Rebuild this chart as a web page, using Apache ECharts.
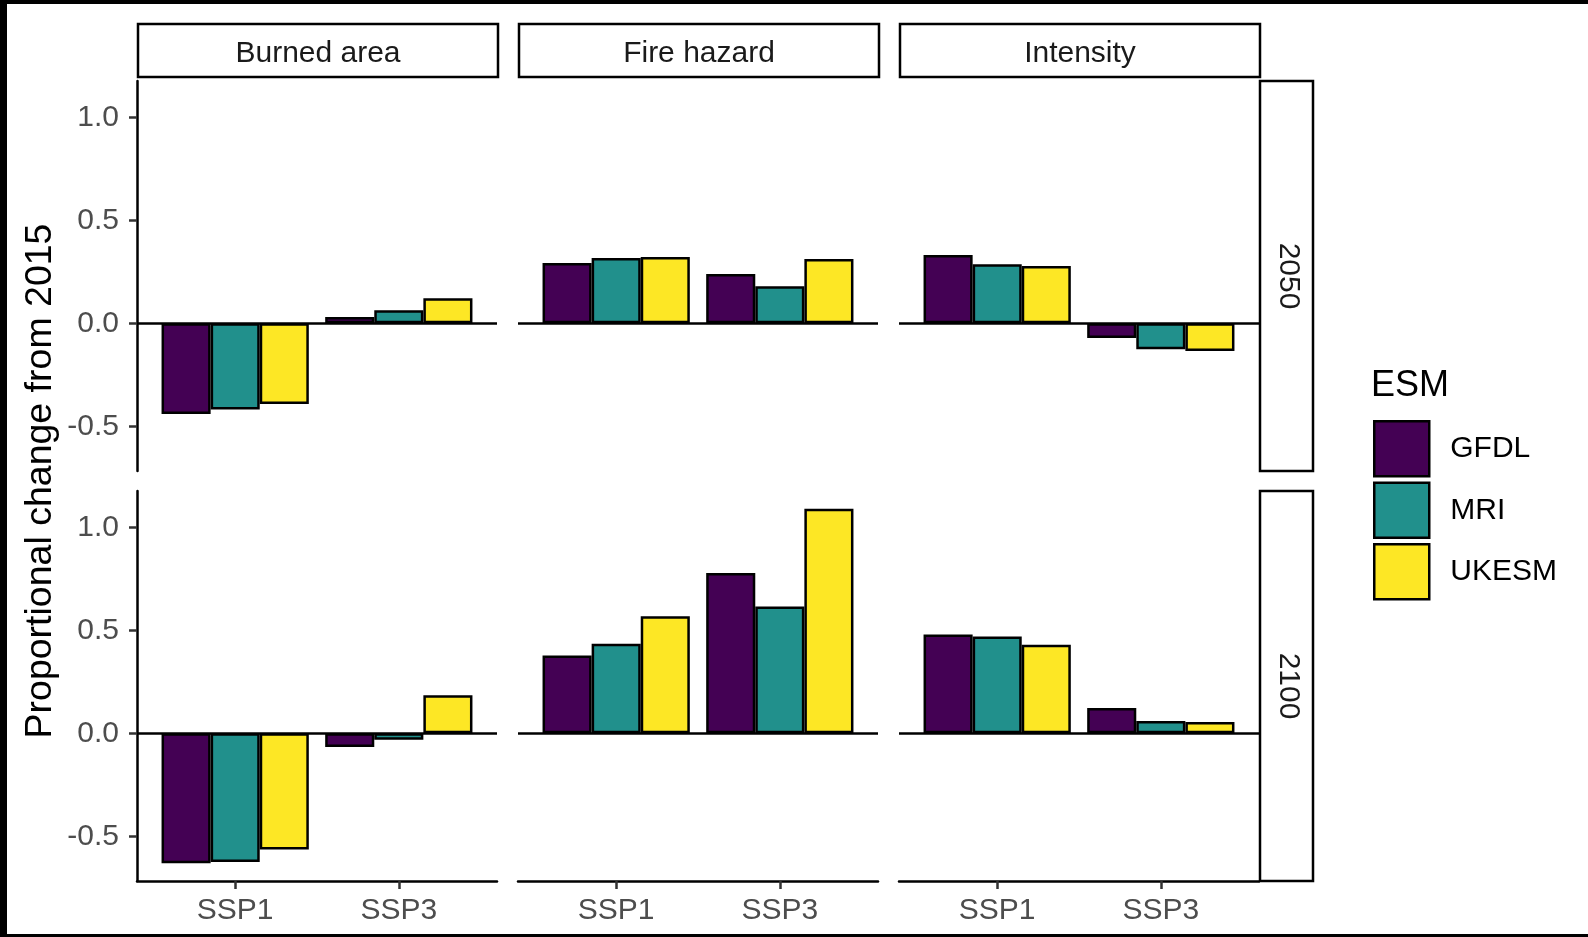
<!DOCTYPE html>
<html><head><meta charset="utf-8">
<script src="https://cdn.jsdelivr.net/npm/echarts@6/dist/echarts.min.js"></script>
<style>
html,body{margin:0;padding:0;background:#000;width:1588px;height:937px;overflow:hidden}
#bg{position:absolute;left:7px;top:4px;width:1581px;height:930px;background:#fff}
#chart{position:absolute;left:0;top:0;width:1588px;height:937px}
</style></head><body><div id="bg"></div><div id="chart"></div>
<script>
// ---- data ----
const scenarios = ['SSP1', 'SSP3'];
const models = ['GFDL', 'MRI', 'UKESM'];
const variables = ['Burned area', 'Fire hazard', 'Intensity'];
const years = ['2050', '2100'];
const yTicks = [-0.5, 0, 0.5, 1.0];
// values per panel, ordered [GFDL, MRI, UKESM]
const burned2050_SSP1 = [-0.440, -0.418, -0.392];
const burned2050_SSP3 = [0.030, 0.063, 0.122];
const hazard2050_SSP1 = [0.292, 0.317, 0.322];
const hazard2050_SSP3 = [0.239, 0.180, 0.312];
const intensity2050_SSP1 = [0.331, 0.286, 0.278];
const intensity2050_SSP3 = [-0.072, -0.126, -0.134];
const burned2100_SSP1 = [-0.631, -0.625, -0.564];
const burned2100_SSP3 = [-0.066, -0.032, 0.185];
const hazard2100_SSP1 = [0.378, 0.435, 0.568];
const hazard2100_SSP3 = [0.778, 0.615, 1.090];
const intensity2100_SSP1 = [0.480, 0.470, 0.430];
const intensity2100_SSP3 = [0.123, 0.059, 0.055];
const colors = ['#440154', '#21908C', '#FDE725'];

const panels = [
  [burned2050_SSP1, burned2050_SSP3], [hazard2050_SSP1, hazard2050_SSP3], [intensity2050_SSP1, intensity2050_SSP3],
  [burned2100_SSP1, burned2100_SSP3], [hazard2100_SSP1, hazard2100_SSP3], [intensity2100_SSP1, intensity2100_SSP3]
];

// shared y scale with 5% expansion (ggplot-like)
let lo = 0, hi = 0;
panels.forEach(p => p.forEach(a => a.forEach(v => { lo = Math.min(lo, v); hi = Math.max(hi, v); })));
const pad = (hi - lo) * 0.05;
const yMin = lo - pad, yMax = hi + pad;

// ---- layout ----
const FONT = '"Liberation Sans", Arial, sans-serif';
const colLeft = [137, 518, 899];
const W = 360;
const rowTop = [81, 491];
const H = 390;

const grid = [], xAxis = [], yAxis = [], series = [];
for (let r = 0; r < 2; r++) {
  for (let c = 0; c < 3; c++) {
    const i = r * 3 + c;
    grid.push({ left: colLeft[c], top: rowTop[r], width: W, height: H, containLabel: false });
    xAxis.push({
      gridIndex: i, type: 'value', min: 0.4, max: 2.6,
      axisLine: { show: r === 1, onZero: false, lineStyle: { color: '#000', width: 2.5 } },
      axisTick: { show: r === 1, customValues: [1, 2], length: 8, lineStyle: { color: '#333', width: 2.5 } },
      axisLabel: { show: r === 1, customValues: [1, 2], formatter: v => scenarios[Math.round(v) - 1],
        margin: 15, fontSize: 30, color: '#4d4d4d', fontFamily: FONT },
      splitLine: { show: false }
    });
    yAxis.push({
      gridIndex: i, type: 'value', min: yMin, max: yMax,
      axisLine: { show: c === 0, onZero: false, lineStyle: { color: '#000', width: 2.5 } },
      axisTick: { show: c === 0, customValues: yTicks, length: 8, lineStyle: { color: '#333', width: 2.5 } },
      axisLabel: { show: c === 0, customValues: yTicks, formatter: v => v.toFixed(1),
        margin: 18, fontSize: 30, color: '#4d4d4d', fontFamily: FONT },
      splitLine: { show: false }
    });
    models.forEach((m, k) => {
      const s = {
        type: 'bar', name: m, xAxisIndex: i, yAxisIndex: i,
        data: scenarios.map((sc, j) => [j + 1, panels[i][j][k]]),
        barWidth: '30%', barGap: '0%',
        itemStyle: { color: colors[k], borderColor: '#000', borderWidth: 2.5 },
        emphasis: { disabled: true }
      };
      if (k === 0) {
        s.markLine = {
          silent: true, symbol: ['none', 'none'], label: { show: false },
          lineStyle: { color: '#000', width: 2.5, type: 'solid' },
          data: [{ yAxis: 0 }]
        };
      }
      series.push(s);
    });
  }
}

const graphic = [];
variables.forEach((v, c) => {
  graphic.push({ type: 'rect', shape: { x: colLeft[c] + 1, y: 24, width: W, height: 53 },
    style: { fill: '#fff', stroke: '#000', lineWidth: 2.5 } });
  graphic.push({ type: 'text', x: colLeft[c] + 1 + W / 2, y: 53.5,
    style: { text: v, fontSize: 30, fill: '#1a1a1a', align: 'center', verticalAlign: 'middle', fontFamily: FONT } });
});
years.forEach((y, r) => {
  graphic.push({ type: 'rect', shape: { x: 1260, y: rowTop[r], width: 53, height: H },
    style: { fill: '#fff', stroke: '#000', lineWidth: 2.5 } });
  graphic.push({ type: 'text', x: 1288, y: rowTop[r] + H / 2, rotation: -Math.PI / 2,
    style: { text: y, fontSize: 30, fill: '#1a1a1a', align: 'center', verticalAlign: 'middle', fontFamily: FONT } });
});
graphic.push({ type: 'text', x: 41, y: 481, rotation: Math.PI / 2,
  style: { text: 'Proportional change from 2015', fontSize: 37.5, fill: '#000', align: 'center', verticalAlign: 'middle', fontFamily: FONT } });
graphic.push({ type: 'text', x: 1371, y: 386,
  style: { text: 'ESM', fontSize: 36, fill: '#000', align: 'left', verticalAlign: 'middle', fontFamily: FONT } });

const chart = echarts.init(document.getElementById('chart'), null, { renderer: 'canvas' });
chart.setOption({
  animation: false,
  backgroundColor: 'transparent',
  grid, xAxis, yAxis, series, graphic,
  legend: {
    data: models, orient: 'vertical', left: 1368, top: 415,
    itemWidth: 55, itemHeight: 55, itemGap: 4, icon: 'rect', selectedMode: false,
    itemStyle: { borderColor: '#000', borderWidth: 2.5 },
    textStyle: { fontSize: 30, color: '#000', fontFamily: FONT, padding: [0, 0, 0, 16] }
  }
});
</script></body></html>
